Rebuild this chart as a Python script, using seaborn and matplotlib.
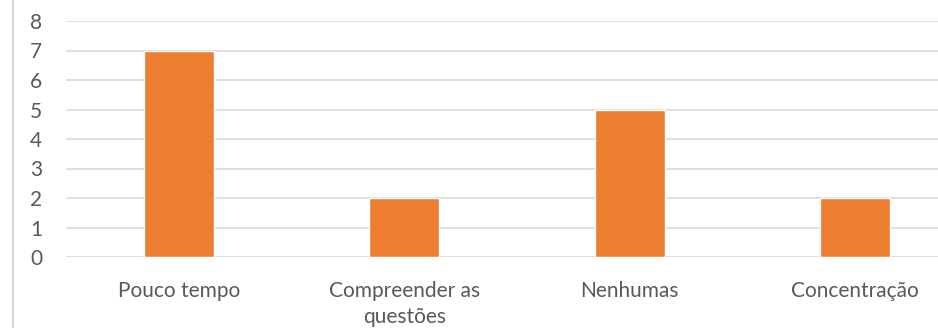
import seaborn as sns
import matplotlib.pyplot as plt
import pandas as pd
from matplotlib.lines import Line2D

categorias = ["Pouco tempo", "Compreender as\nquestões", "Nenhumas", "Concentração"]
valores = [7, 2, 5, 2]

sns.set_style("white")
plt.rcParams['font.family'] = ['Lato', 'DejaVu Sans']

df = pd.DataFrame({"categoria": categorias, "valor": valores})

fig = plt.figure(figsize=(9.38, 3.28), dpi=100)
# plot area extends past the right edge like the cropped original
ax = fig.add_axes([66 / 938, 1 - 257 / 328, 902 / 938, 236 / 328])
sns.barplot(data=df, x="categoria", y="valor", color="#ED7D31", width=0.31,
            saturation=1, ax=ax, zorder=3)

ax.set_ylim(0, 8)
ax.set_yticks(range(0, 9))
ax.yaxis.grid(True, color="#D9D9D9", linewidth=1.2, zorder=0)
ax.set_axisbelow(True)
for s in ax.spines.values():
    s.set_visible(False)
ax.tick_params(axis="both", length=0, colors="#595959", labelsize=15)
ax.tick_params(axis="x", pad=17)
ax.tick_params(axis="y", pad=17)
for lbl in ax.get_xticklabels():
    lbl.set_linespacing(1.4)
ax.set_xlabel("")
ax.set_ylabel("")

fig.add_artist(Line2D([13 / 938, 13 / 938], [0, 1], color="#D9D9D9", linewidth=1.5,
                      transform=fig.transFigure))

fig.savefig("out.png", dpi=100)
